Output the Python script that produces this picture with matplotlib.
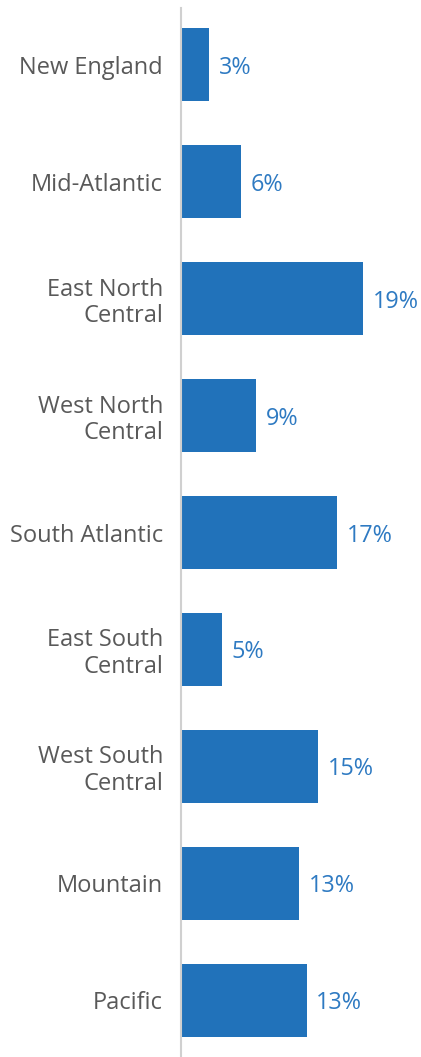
import matplotlib
matplotlib.use('Agg')
import matplotlib.pyplot as plt
import numpy as np

plt.rcParams.update({
    'font.family': ['Open Sans', 'DejaVu Sans'],
    'font.size': 17,
})

# Data (share by census division)
regions = ['New England', 'Mid-Atlantic', 'East North\nCentral', 'West North\nCentral',
           'South Atlantic', 'East South\nCentral', 'West South\nCentral', 'Mountain', 'Pacific']
shares = [2.9, 6.25, 19.0, 7.8, 16.25, 4.3, 14.3, 12.3, 13.1]
share_labels = ['3%', '6%', '19%', '9%', '17%', '5%', '15%', '13%', '13%']

bar_color = '#2172BA'
label_blue = '#2E7AC2'
text_gray = '#595959'

fig = plt.figure(figsize=(4.21, 10.57), dpi=100)
ax = fig.add_axes([181 / 421, 0, 1 - 181 / 421, 1 - 8 / 1057])

y = np.arange(len(regions))
ax.barh(y, shares, height=0.624, color=bar_color, zorder=2)

for yi, val, lab in zip(y, shares, share_labels):
    ax.text(val + 1.0, yi, lab, va='center_baseline', ha='left', color=label_blue, fontsize=16.8)

ax.set_yticks(y)
ax.set_yticklabels(regions, color=text_gray, fontsize=17, linespacing=1.15)
ax.tick_params(axis='y', length=0, pad=13)
ax.set_xticks([])
ax.set_xlim(0, 240 / 9.6)
ax.set_ylim(len(regions) - 1 + 0.483, -0.483)

for side in ['top', 'right', 'bottom']:
    ax.spines[side].set_visible(False)
ax.spines['left'].set_color('#d0d0d0')
ax.spines['left'].set_linewidth(1.5)
ax.spines['left'].set_zorder(3)

fig.savefig('out.png', dpi=100, facecolor='white')
